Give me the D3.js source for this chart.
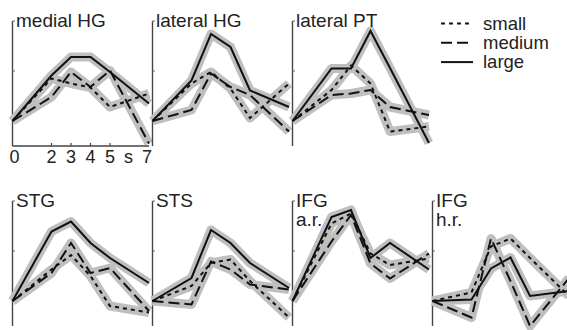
<!DOCTYPE html>
<html>
<head>
<meta charset="utf-8">
<script src="https://cdn.jsdelivr.net/npm/d3@7"></script>
<style>
  body { margin: 0; background: #fff; }
  svg { display: block; font-family: "Liberation Sans", Arial, sans-serif; }
</style>
</head>
<body>
<div id="chart"></div>
<script>
// time points (s)
const times = [0, 2, 3, 4, 5, 7];
const regionLabels = [["medial HG"], ["lateral HG"], ["lateral PT"], ["STG"], ["STS"], ["IFG", "a.r."], ["IFG", "h.r."]];
const xTickValues = [0, 2, 3, 4, 5, 7];
const xTickLabels = ["0", "2", "3", "4", "5", "7"];

// response per region, one row per region
const smallVals = [
  [0, 0.85, 0.75, 0.67, 0.28, 0.55],
  [0, 0.75, 0.98, 0.65, 0.06, 0.75],
  [0, 0.62, 1.11, 0.75, -0.21, -0.11],
  [0, 0.63, 0.92, 0.50, -0.10, -0.23],
  [0, 0.30, 0.76, 0.83, 0.40, -0.33],
  [0, 1.55, 1.75, 0.95, 0.72, 0.85],
  [0, 0.17, 1.09, 1.25, 0.86, 0.10]
];
const mediumVals = [
  [0, 0.48, 0.98, 0.68, 1.01, -0.45],
  [0, 0.22, 0.95, 0.68, 0.52, -0.21],
  [0, 0.52, 0.55, 0.62, 0.28, 0.12],
  [0, 0.56, 1.16, 0.56, 0.66, -0.20],
  [0, -0.07, 0.79, 0.63, 0.33, 0.23],
  [0, 1.19, 1.72, 0.75, 0.45, 0.95],
  [0, -0.33, 1.25, 0.40, -0.50, 0.46]
];
const largeVals = [
  [0, 0.91, 1.28, 1.28, 0.98, 0.35],
  [0, 0.81, 1.74, 1.48, 0.61, 0.28],
  [0, 1.05, 1.05, 1.80, 1.06, -0.44],
  [0, 1.39, 1.59, 1.16, 0.86, 0.36],
  [0, 0.46, 1.42, 1.16, 0.76, 0.26],
  [0, 1.68, 1.82, 0.86, 1.16, 0.63],
  [0, 0.03, 0.65, 0.87, 0.10, 0.20]
];

const sizes = [
  { name: "small", label: "small", dash: "4,4", values: smallVals },
  { name: "medium", label: "medium", dash: "11,5", values: mediumVals },
  { name: "large", label: "large", dash: null, values: largeVals }
];

const W = 567, H = 330;
const panelW = 136.5, panelH = 125;
// panel origins (left edge = y axis, top edge)
const panelPos = [
  [12.5, 21], [152.5, 21], [292.5, 21],
  [12.5, 201], [152.5, 201], [292.5, 201], [432.5, 201]
];

const svg = d3.select("#chart").append("svg")
  .attr("width", W)
  .attr("height", H);

const x = d3.scaleLinear().domain([0, 7]).range([0, panelW]);
const y = d3.scaleLinear().domain([-0.5, 2]).range([panelH, 0]);

const line = d3.line()
  .x(function(d) { return x(d.t); })
  .y(function(d) { return y(d.v); });

regionLabels.forEach(function(lbl, i) {
  const g = svg.append("g")
    .attr("transform", "translate(" + panelPos[i][0] + "," + panelPos[i][1] + ")");

  // y axis
  g.append("line")
    .attr("x1", 0).attr("x2", 0)
    .attr("y1", 0).attr("y2", panelH)
    .attr("stroke", "#444").style("stroke-width", 1.4);
  [1, 2].forEach(function(v) {
    g.append("line")
      .attr("x1", 0).attr("x2", 2.5)
      .attr("y1", y(v)).attr("y2", y(v))
      .attr("stroke", "#666").style("stroke-width", 1);
  });

  const series = sizes.map(function(s) {
    return {
      name: s.name,
      dash: s.dash,
      values: times.map(function(t, k) { return { t: t, v: s.values[i][k] }; })
    };
  });

  // grey error bands
  g.selectAll("myBands")
    .data(series)
    .enter()
    .append("path")
      .attr("d", function(d) { return line(d.values); })
      .attr("stroke", "#bfbfbf")
      .style("stroke-width", 9)
      .style("stroke-linejoin", "round")
      .style("fill", "none");

  g.selectAll("myLines")
    .data(series)
    .enter()
    .append("path")
      .attr("class", function(d) { return d.name; })
      .attr("d", function(d) { return line(d.values); })
      .attr("stroke", "#111")
      .style("stroke-width", 2)
      .style("stroke-dasharray", function(d) { return d.dash; })
      .style("fill", "none");

  // region label
  const txt = g.append("text")
    .attr("x", 3.5)
    .attr("y", 6)
    .style("font-size", "19px")
    .style("fill", "#222");
  lbl.forEach(function(part, k) {
    txt.append("tspan")
      .attr("x", 3.5)
      .attr("dy", k === 0 ? 0 : 18.5)
      .text(part);
  });

  // time axis only on the first panel
  if (i === 0) {
    g.append("line")
      .attr("x1", 0).attr("x2", panelW)
      .attr("y1", panelH).attr("y2", panelH)
      .attr("stroke", "#444").style("stroke-width", 1.4);
    g.selectAll("myTicks")
      .data([2, 3, 4, 5])
      .enter()
      .append("line")
        .attr("x1", function(d) { return x(d); })
        .attr("x2", function(d) { return x(d); })
        .attr("y1", panelH).attr("y2", panelH - 3)
        .attr("stroke", "#444").style("stroke-width", 1.2);
    g.selectAll("myTickLabels")
      .data(xTickValues)
      .enter()
      .append("text")
        .attr("x", function(d) { return x(d) + (d === 0 ? 2 : d === 7 ? -2 : 0); })
        .attr("y", panelH + 17)
        .attr("text-anchor", "middle")
        .style("font-size", "18px")
        .style("fill", "#222")
        .text(function(d, k) { return xTickLabels[k]; });
    g.append("text")
      .attr("x", x(5.95))
      .attr("y", panelH + 17)
      .attr("text-anchor", "middle")
      .style("font-size", "18px")
      .style("fill", "#222")
      .text("s");
  }
});

// legend
const legend = svg.append("g").attr("transform", "translate(441,0)");
sizes.forEach(function(s, k) {
  const ly = 23.5 + k * 19.3;
  legend.append("line")
    .attr("x1", 0).attr("x2", 32)
    .attr("y1", ly).attr("y2", ly)
    .attr("stroke", "#111")
    .style("stroke-width", 2)
    .style("stroke-dasharray", s.dash);
  legend.append("text")
    .attr("x", 42)
    .attr("y", ly + 6)
    .style("font-size", "18.5px")
    .style("fill", "#222")
    .text(s.label);
});
</script>
</body>
</html>
